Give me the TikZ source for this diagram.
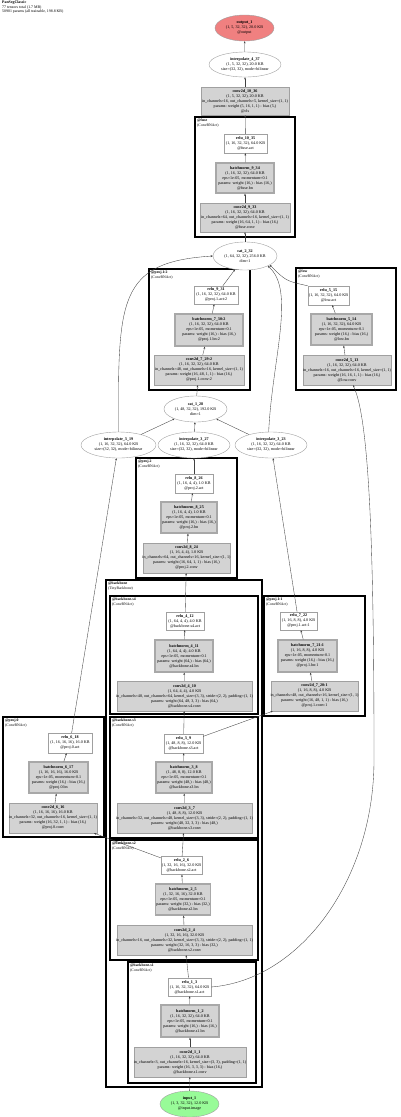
\documentclass[tikz,border=0pt]{standalone}
\usepackage{fontspec}
\setmainfont{Liberation Serif}
\usetikzlibrary{shapes.geometric,arrows.meta}
\definecolor{boxgrey}{HTML}{D3D3D3}
\definecolor{linegrey}{HTML}{A0A0A0}
\definecolor{bngrey}{HTML}{A8A8A8}
\definecolor{outred}{HTML}{F08080}
\definecolor{ingreen}{HTML}{98FB98}
\newcommand{\wl}[1]{\makebox[0pt]{#1}}
\tikzset{
  lay/.style={rectangle, draw=linegrey, fill=white, line width=.4pt, inner sep=1pt},
  prm/.style={rectangle, draw=linegrey, fill=boxgrey, line width=.4pt, inner sep=1pt},
  bnm/.style={prm, draw=bngrey, line width=1.3pt},
  op/.style={ellipse, draw=linegrey, fill=white, line width=.4pt, inner sep=.5pt},
  modbox/.style={draw=black, line width=1.2pt},
  modlbl/.style={anchor=north west, align=left, inner sep=0pt, font=\fontsize{3.8}{4.4}\selectfont},
  flow/.style={-{Stealth[length=2.2pt,width=1.8pt]}, draw=black!75, line width=.35pt},
}
\begin{document}
\begin{tikzpicture}[x=1pt,y=-1pt,every node/.style={font=\fontsize{4.1}{5}\selectfont,align=center}]
  \useasboundingbox (0,0) rectangle (400,1117);
  \node[anchor=north west,align=left,inner sep=0pt,font=\fontsize{3.9}{4.4}\selectfont] (hdr) at (2,1)
    {\textbf{PanSegClassic}\\77 tensors total (1.7 MB)\\50901 params (all trainable, 198.8 KB)};
  % module boxes
  \draw[modbox] (195,117) rectangle (295,237);
  \draw[modbox] (149,269) rectangle (250,390);
  \draw[modbox] (296,268) rectangle (396,390);
  \draw[modbox] (136,458) rectangle (237,578);
  \draw[modbox] (106,580) rectangle (262,1087);
  \draw[modbox] (110,596) rectangle (258,714);
  \draw[modbox] (264,596) rectangle (365,716);
  \draw[modbox] (3,717) rectangle (104,837);
  \draw[modbox] (110,717) rectangle (258,838);
  \draw[modbox] (110,840) rectangle (258,960);
  \draw[modbox] (128,962) rectangle (256,1083);
  \node[modlbl] (lfuse) at (197,119) {\textbf{@fuse}\\(ConvBNAct)};
  \node[modlbl] (lpb) at (151,271) {\textbf{@proj.1:2}\\(ConvBNAct)};
  \node[modlbl] (llow) at (298,270) {\textbf{@low}\\(ConvBNAct)};
  \node[modlbl] (lp2) at (138,460) {\textbf{@proj.2}\\(ConvBNAct)};
  \node[modlbl] (lbb) at (108,582) {\textbf{@backbone}\\(TinyBackbone)};
  \node[modlbl] (ls4) at (112,598) {\textbf{@backbone.s4}\\(ConvBNAct)};
  \node[modlbl] (lpa) at (266,598) {\textbf{@proj.1:1}\\(ConvBNAct)};
  \node[modlbl] (lp0) at (5,719) {\textbf{@proj.0}\\(ConvBNAct)};
  \node[modlbl] (ls3) at (112,719) {\textbf{@backbone.s3}\\(ConvBNAct)};
  \node[modlbl] (ls2) at (112,842) {\textbf{@backbone.s2}\\(ConvBNAct)};
  \node[modlbl] (ls1) at (130,964) {\textbf{@backbone.s1}\\(ConvBNAct)};
  % head
  \node[op,fill=outred,minimum width=59,minimum height=26] (out1) at (244.5,28)
    {\textbf{output\_1}\\(1, 5, 32, 32), 20.0 KB\\@output};
  \node[op,minimum width=72,minimum height=25] (ip37) at (245,64.5)
    {\textbf{interpolate\_4\_37}\\(1, 5, 32, 32), 20.0 KB\\size=(32, 32), mode=bilinear};
  \node[prm,minimum width=88,minimum height=28] (ccls) at (245,101)
    {\textbf{conv2d\_10\_36}\\(1, 5, 32, 32), 20.0 KB\\\wl{in\_channels=16, out\_channels=5, kernel\_size=(1, 1)}\\params: weight (5, 16, 1, 1) - bias (5,)\\@cls};
  % fuse
  \node[lay,minimum width=43,minimum height=19] (rf) at (245.5,143.5)
    {\textbf{relu\_10\_35}\\(1, 16, 32, 32), 64.0 KB\\@fuse.act};
  \node[bnm,minimum width=58,minimum height=30] (bnf) at (245,178)
    {\textbf{batchnorm\_9\_34}\\(1, 16, 32, 32), 64.0 KB\\eps=1e-05, momentum=0.1\\params: weight (16,) - bias (16,)\\@fuse.bn};
  \node[prm,minimum width=90,minimum height=29] (cf) at (245,217.5)
    {\textbf{conv2d\_9\_33}\\(1, 16, 32, 32), 64.0 KB\\\wl{in\_channels=64, out\_channels=16, kernel\_size=(1, 1)}\\params: weight (16, 64, 1, 1) - bias (16,)\\@fuse.conv};
  \node[op,minimum width=64,minimum height=28] (cat2) at (245,256)
    {\textbf{cat\_2\_32}\\(1, 64, 32, 32), 256.0 KB\\dim=1};
  % proj.1 second pass
  \node[lay,minimum width=44,minimum height=18] (rpb) at (216,295)
    {\textbf{relu\_9\_31}\\(1, 16, 32, 32), 64.0 KB\\@proj.1.act:2};
  \node[bnm,minimum width=68,minimum height=32] (bnpb) at (209,330)
    {\textbf{batchnorm\_7\_30:2}\\(1, 16, 32, 32), 64.0 KB\\eps=1e-05, momentum=0.1\\params: weight (16,) - bias (16,)\\@proj.1.bn:2};
  \node[prm,minimum width=90,minimum height=30] (cpb) at (199,370)
    {\textbf{conv2d\_7\_29:2}\\(1, 16, 32, 32), 64.0 KB\\\wl{in\_channels=48, out\_channels=16, kernel\_size=(1, 1)}\\params: weight (16, 48, 1, 1) - bias (16,)\\@proj.1.conv:2};
  % low
  \node[lay,minimum width=39,minimum height=19] (rl) at (328.5,295.5)
    {\textbf{relu\_5\_15}\\(1, 16, 32, 32), 64.0 KB\\@low.act};
  \node[bnm,minimum width=61,minimum height=31] (bnl) at (341.5,329.5)
    {\textbf{batchnorm\_5\_14}\\(1, 16, 32, 32), 64.0 KB\\eps=1e-05, momentum=0.1\\params: weight (16,) - bias (16,)\\@low.bn};
  \node[prm,minimum width=88,minimum height=30] (cl) at (347,370)
    {\textbf{conv2d\_5\_13}\\(1, 16, 32, 32), 64.0 KB\\\wl{in\_channels=16, out\_channels=16, kernel\_size=(1, 1)}\\params: weight (16, 16, 1, 1) - bias (16,)\\@low.conv};
  % merge
  \node[op,minimum width=63,minimum height=26] (cat1) at (195.5,409)
    {\textbf{cat\_1\_28}\\(1, 48, 32, 32), 192.0 KB\\dim=1};
  \node[op,minimum width=75,minimum height=26] (ip19) at (118.5,445)
    {\textbf{interpolate\_3\_19}\\(1, 16, 32, 32), 64.0 KB\\size=(32, 32), mode=bilinear};
  \node[op,minimum width=72,minimum height=26] (ip27) at (194,445)
    {\textbf{interpolate\_3\_27}\\(1, 16, 32, 32), 64.0 KB\\size=(32, 32), mode=bilinear};
  \node[op,minimum width=72,minimum height=26] (ip23) at (271,445)
    {\textbf{interpolate\_3\_23}\\(1, 16, 32, 32), 64.0 KB\\size=(32, 32), mode=bilinear};
  % proj.2
  \node[lay,minimum width=38,minimum height=19] (rp2) at (194,483.5)
    {\textbf{relu\_8\_26}\\(1, 16, 4, 4), 1.0 KB\\@proj.2.act};
  \node[bnm,minimum width=56,minimum height=31] (bnp2) at (189,517.5)
    {\textbf{batchnorm\_8\_25}\\(1, 16, 4, 4), 1.0 KB\\eps=1e-05, momentum=0.1\\params: weight (16,) - bias (16,)\\@proj.2.bn};
  \node[prm,minimum width=87,minimum height=30] (cp2) at (186.5,558)
    {\textbf{conv2d\_8\_24}\\(1, 16, 4, 4), 1.0 KB\\\wl{in\_channels=64, out\_channels=16, kernel\_size=(1, 1)}\\params: weight (16, 64, 1, 1) - bias (16,)\\@proj.2.conv};
  % backbone.s4
  \node[lay,minimum width=38,minimum height=18] (r4) at (185,621)
    {\textbf{relu\_4\_12}\\(1, 64, 4, 4), 4.0 KB\\@backbone.s4.act};
  \node[bnm,minimum width=58,minimum height=32] (bn4) at (184,656)
    {\textbf{batchnorm\_4\_11}\\(1, 64, 4, 4), 4.0 KB\\eps=1e-05, momentum=0.1\\params: weight (64,) - bias (64,)\\@backbone.s4.bn};
  \node[prm,minimum width=135,minimum height=30] (c4) at (184.5,696)
    {\textbf{conv2d\_4\_10}\\(1, 64, 4, 4), 4.0 KB\\\wl{in\_channels=48, out\_channels=64, kernel\_size=(3, 3), stride=(2, 2), padding=(1, 1)}\\params: weight (64, 48, 3, 3) - bias (64,)\\@backbone.s4.conv};
  % proj.1 first pass
  \node[lay,minimum width=37,minimum height=18] (rpa) at (298.5,621)
    {\textbf{relu\_7\_22}\\(1, 16, 8, 8), 4.0 KB\\@proj.1.act:1};
  \node[bnm,minimum width=59,minimum height=32] (bnpa) at (307.5,656)
    {\textbf{batchnorm\_7\_21:1}\\(1, 16, 8, 8), 4.0 KB\\eps=1e-05, momentum=0.1\\params: weight (16,) - bias (16,)\\@proj.1.bn:1};
  \node[prm,minimum width=87,minimum height=30] (cpa) at (314.5,696)
    {\textbf{conv2d\_7\_20:1}\\(1, 16, 8, 8), 4.0 KB\\\wl{in\_channels=48, out\_channels=16, kernel\_size=(1, 1)}\\params: weight (16, 48, 1, 1) - bias (16,)\\@proj.1.conv:1};
  % proj.0
  \node[lay,minimum width=44,minimum height=20] (rp0) at (70,743)
    {\textbf{relu\_6\_18}\\(1, 16, 16, 16), 16.0 KB\\@proj.0.act};
  \node[bnm,minimum width=59,minimum height=31] (bnp0) at (58.5,777.5)
    {\textbf{batchnorm\_6\_17}\\(1, 16, 16, 16), 16.0 KB\\eps=1e-05, momentum=0.1\\params: weight (16,) - bias (16,)\\@proj.0.bn};
  \node[prm,minimum width=88,minimum height=30] (cp0) at (53,818)
    {\textbf{conv2d\_6\_16}\\(1, 16, 16, 16), 16.0 KB\\\wl{in\_channels=32, out\_channels=16, kernel\_size=(1, 1)}\\params: weight (16, 32, 1, 1) - bias (16,)\\@proj.0.conv};
  % backbone.s3
  \node[lay,minimum width=39,minimum height=19] (r3) at (183.5,743.5)
    {\textbf{relu\_3\_9}\\(1, 48, 8, 8), 12.0 KB\\@backbone.s3.act};
  \node[bnm,minimum width=56,minimum height=31] (bn3) at (184,777.5)
    {\textbf{batchnorm\_3\_8}\\(1, 48, 8, 8), 12.0 KB\\eps=1e-05, momentum=0.1\\params: weight (48,) - bias (48,)\\@backbone.s3.bn};
  \node[prm,minimum width=135,minimum height=30] (c3) at (184.5,818)
    {\textbf{conv2d\_3\_7}\\(1, 48, 8, 8), 12.0 KB\\\wl{in\_channels=32, out\_channels=48, kernel\_size=(3, 3), stride=(2, 2), padding=(1, 1)}\\params: weight (48, 32, 3, 3) - bias (48,)\\@backbone.s3.conv};
  % backbone.s2
  \node[lay,minimum width=39,minimum height=18] (r2) at (181.5,865.5)
    {\textbf{relu\_2\_6}\\(1, 32, 16, 16), 32.0 KB\\@backbone.s2.act};
  \node[bnm,minimum width=54,minimum height=31] (bn2) at (183,899.5)
    {\textbf{batchnorm\_2\_5}\\(1, 32, 16, 16), 32.0 KB\\eps=1e-05, momentum=0.1\\params: weight (32,) - bias (32,)\\@backbone.s2.bn};
  \node[prm,minimum width=135,minimum height=30] (c2) at (184.5,940)
    {\textbf{conv2d\_2\_4}\\(1, 32, 16, 16), 32.0 KB\\\wl{in\_channels=16, out\_channels=32, kernel\_size=(3, 3), stride=(2, 2), padding=(1, 1)}\\params: weight (32, 16, 3, 3) - bias (32,)\\@backbone.s2.conv};
  % backbone.s1
  \node[lay,minimum width=43,minimum height=18] (r1) at (189.5,987)
    {\textbf{relu\_1\_3}\\(1, 16, 32, 32), 64.0 KB\\@backbone.s1.act};
  \node[bnm,minimum width=58,minimum height=32] (bn1) at (190,1021)
    {\textbf{batchnorm\_1\_2}\\(1, 16, 32, 32), 64.0 KB\\eps=1e-05, momentum=0.1\\params: weight (16,) - bias (16,)\\@backbone.s1.bn};
  \node[prm,minimum width=112,minimum height=30] (c1) at (190,1062)
    {\textbf{conv2d\_1\_1}\\(1, 16, 32, 32), 64.0 KB\\\wl{in\_channels=3, out\_channels=16, kernel\_size=(3, 3), padding=(1, 1)}\\params: weight (16, 3, 3, 3) - bias (16,)\\@backbone.s1.conv};
  \node[op,fill=ingreen,minimum width=59,minimum height=26] (in1) at (189.5,1104)
    {\textbf{input\_1}\\(1, 3, 32, 32), 12.0 KB\\@input.image};
  % edges
  \draw[flow] (in1) -- (c1);
  \draw[flow] (c1) -- (bn1);
  \draw[flow] (bn1) -- (r1);
  \draw[flow] (r1) -- (c2);
  \coordinate (lowbend) at (374,760);
  \draw[flow] (r1.east) .. controls (300,980) and (374,880) .. (lowbend)
    .. controls (374,560) and (370,420) .. ([xshift=6pt]cl.south);
  \draw[flow] (c2) -- (bn2);
  \draw[flow] (bn2) -- (r2);
  \draw[flow] (r2) -- (c3);
  \draw[flow] (r2) -- (cp0);
  \draw[flow] (c3) -- (bn3);
  \draw[flow] (bn3) -- (r3);
  \draw[flow] (r3) -- (c4);
  \draw[flow] (r3) -- (cpa);
  \draw[flow] (c4) -- (bn4);
  \draw[flow] (bn4) -- (r4);
  \draw[flow] (r4) -- (cp2);
  \draw[flow] (cpa) -- (bnpa);
  \draw[flow] (bnpa) -- (rpa);
  \draw[flow] (rpa) -- (ip23);
  \draw[flow] (cp0) -- (bnp0);
  \draw[flow] (bnp0) -- (rp0);
  \draw[flow] (rp0) -- (ip19);
  \draw[flow] (cp2) -- (bnp2);
  \draw[flow] (bnp2) -- (rp2);
  \draw[flow] (rp2) -- (ip27);
  \draw[flow] (ip19) -- (cat1);
  \draw[flow] (ip27) -- (cat1);
  \draw[flow] (ip23) -- (cat1);
  \draw[flow] (ip19.north) .. controls (118,300) and (118,262) .. (cat2.west);
  \draw[flow] (ip23.100) .. controls (272,360) and (296,290) .. (cat2.south east);
  \draw[flow] (cat1) -- (cpb);
  \draw[flow] (cpb) -- (bnpb);
  \draw[flow] (bnpb) -- (rpb);
  \draw[flow] (rpb) -- (cat2);
  \draw[flow] (cl) -- (bnl);
  \draw[flow] (bnl) -- (rl);
  \draw[flow] (rl.north west) .. controls (286,281) .. (cat2.-20);
  \draw[flow] (cat2) -- (cf);
  \draw[flow] (cf) -- (bnf);
  \draw[flow] (bnf) -- (rf);
  \draw[flow] (rf) -- (ccls);
  \draw[flow] (ccls) -- (ip37);
  \draw[flow] (ip37) -- (out1);
\end{tikzpicture}
\end{document}
